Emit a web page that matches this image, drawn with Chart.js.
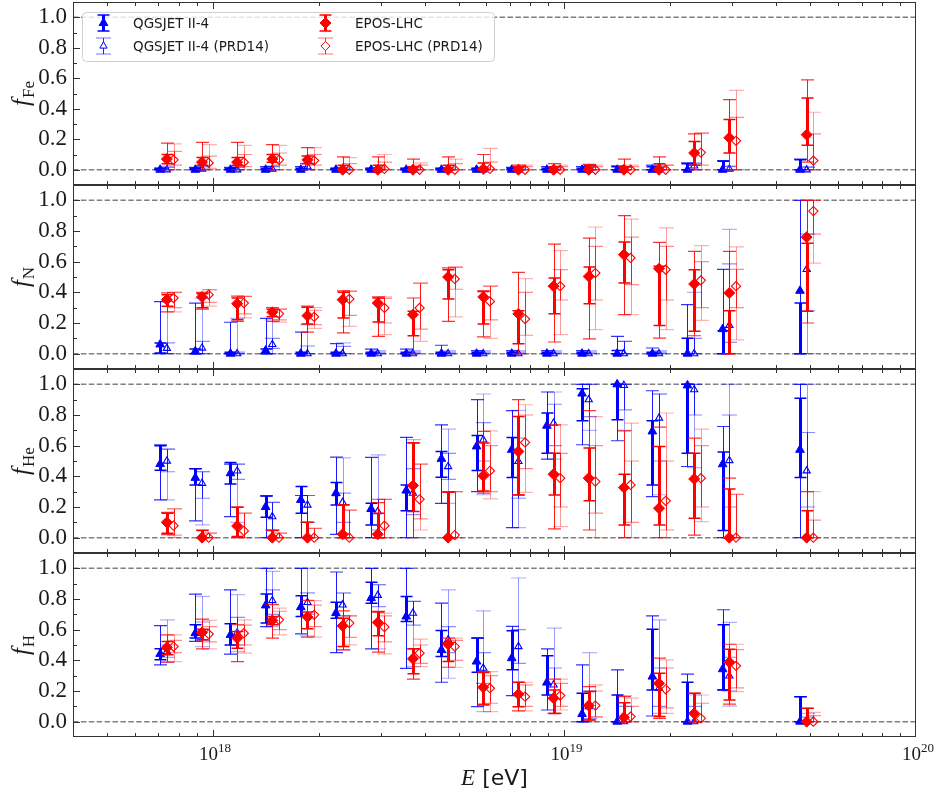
<!DOCTYPE html>
<html>
<head>
<meta charset="utf-8">
<title>Mass fractions vs energy</title>
<script src="https://cdn.jsdelivr.net/npm/chart.js@4.4.1/dist/chart.umd.min.js"></script>
<style>
  body { margin: 0; background: #fff; }
  #figure { position: relative; width: 936px; height: 796px; }
  #figure canvas { position: absolute; left: 0; }
</style>
</head>
<body>
<div id="figure">
  <canvas id="panelFe" width="936" height="185" style="top:0px"></canvas>
  <canvas id="panelN" width="936" height="184" style="top:185px"></canvas>
  <canvas id="panelHe" width="936" height="184" style="top:369px"></canvas>
  <canvas id="panelH" width="936" height="243" style="top:553px"></canvas>
</div>
<script>
// Energy bins (log10 E/eV)
const lgE = [17.85, 17.95, 18.05, 18.15, 18.25, 18.35, 18.45, 18.55, 18.65, 18.75, 18.85, 18.95, 19.05, 19.15, 19.25, 19.35, 19.45, 19.67];

// Axis ticks
const yTicks = [0, 0.2, 0.4, 0.6, 0.8, 1.0];
const yMinorTicks = [0.1, 0.3, 0.5, 0.7, 0.9];
const xTickExps = [18, 19, 20];
const seriesLabels = ['QGSJET II-4', 'QGSJET II-4 (PRD14)', 'EPOS-LHC', 'EPOS-LHC (PRD14)'];

// ---- Iron ----
const feQ = [0, 0, 0, 0, 0, 0, 0, 0, 0, 0, 0, 0, 0, 0, 0, 0, 0, 0];
const feQStat = [[0,0.01],[0,0.01],[0,0.01],[0,0.01],[0,0.01],[0,0.01],[0,0.01],[0,0.01],[0,0.01],[0,0.01],[0,0.01],[0,0.01],[0,0.01],[0,0.02],[0,0.02],[0,0.04],[0,0.055],[0,0.065]];
const feQSys = [[0,0.01],[0,0.015],[0,0.015],[0,0.02],[0,0.02],[0,0.01],[0,0.01],[0,0.01],[0,0.01],[0,0.01],[0,0.015],[0,0.02],[0,0.02],[0,0.025],[0,0.03],[0,0.045],[0,0.06],[0,0.07]];
const feQp = [0, 0.005, 0, 0.005, 0.02, 0, 0, 0, 0, 0, 0, 0, 0, 0, 0, 0.025, 0.005, 0];
const feQpStat = [[0,0.015],[0,0.02],[0,0.015],[0,0.02],[0,0.04],[0,0.01],[0,0.01],[0,0.01],[0,0.01],[0,0.01],[0,0.01],[0,0.01],[0,0.015],[0,0.015],[0,0.015],[0,0.04],[0,0.02],[0,0.015]];
const feQpSys = [[0,0.02],[0,0.025],[0,0.02],[0,0.025],[0,0.045],[0,0.015],[0,0.015],[0,0.015],[0,0.015],[0,0.015],[0,0.015],[0,0.015],[0,0.02],[0,0.02],[0,0.02],[0,0.045],[0,0.025],[0,0.02]];
const feE = [0.07, 0.05, 0.05, 0.07, 0.065, 0, 0, 0, 0, 0.005, 0, 0, 0, 0, 0, 0.11, 0.21, 0.23];
const feEStat = [[0.04,0.1],[0.03,0.08],[0.03,0.08],[0.05,0.1],[0.04,0.09],[0,0.03],[0,0.03],[0,0.02],[0,0.03],[0,0.045],[0,0.02],[0,0.02],[0,0.03],[0,0.02],[0,0.04],[0.03,0.185],[0.11,0.33],[0.16,0.47]];
const feESys = [[0,0.175],[0,0.18],[0,0.18],[0,0.165],[0,0.145],[0,0.085],[0,0.085],[0,0.07],[0,0.085],[0,0.1],[0,0.03],[0,0.04],[0,0.035],[0,0.07],[0,0.085],[0,0.235],[0,0.46],[0.05,0.59]];
const feEp = [0.065, 0.045, 0.05, 0.065, 0.06, 0, 0.005, 0, 0, 0.005, 0, 0, 0, 0, 0, 0.113, 0.19, 0.06];
const feEpStat = [[0.03,0.12],[0.01,0.09],[0.02,0.1],[0.03,0.11],[0.03,0.1],[0,0.04],[0,0.05],[0,0.03],[0,0.04],[0,0.05],[0,0.02],[0,0.02],[0,0.02],[0,0.02],[0,0.03],[0.03,0.24],[0,0.344],[0,0.235]];
const feEpSys = [[0,0.17],[0,0.165],[0,0.16],[0,0.16],[0,0.145],[0,0.08],[0,0.1],[0,0.045],[0,0.07],[0,0.14],[0,0.03],[0,0.03],[0,0.03],[0,0.03],[0,0.03],[0,0.24],[0,0.52],[0,0.377]];

// ---- Nitrogen ----
const nQ = [0.06, 0.015, 0, 0.02, 0, 0, 0, 0, 0, 0, 0, 0, 0, 0, 0, 0, 0.16, 0.41];
const nQStat = [[0.005,0.07],[0,0.03],[0,0.01],[0,0.03],[0,0.01],[0,0.01],[0,0.01],[0,0.01],[0,0.01],[0,0.01],[0,0.01],[0,0.01],[0,0.01],[0,0.02],[0,0.01],[0,0.1],[0,0.15],[0,0.33]];
const nQSys = [[0,0.34],[0,0.33],[0,0.205],[0,0.23],[0,0.14],[0,0.065],[0,0.03],[0,0.03],[0,0.055],[0,0.02],[0,0.02],[0,0.02],[0,0.02],[0,0.113],[0,0.037],[0,0.32],[0,0.55],[0,1.0]];
const nQp = [0.035, 0.037, 0, 0.06, 0, 0, 0, 0, 0, 0, 0, 0, 0, 0, 0, 0, 0.185, 0.55];
const nQpStat = [[0,0.07],[0,0.08],[0,0.01],[0.035,0.1],[0,0.05],[0,0.048],[0,0.01],[0,0.01],[0,0.01],[0,0.01],[0,0.01],[0,0.01],[0,0.01],[0,0.08],[0,0.01],[0,0.1],[0.074,0.585],[0.28,0.78]];
const nQpSys = [[0,0.34],[0,0.36],[0,0.23],[0,0.22],[0,0.19],[0,0.07],[0,0.02],[0,0.02],[0,0.02],[0,0.02],[0,0.02],[0,0.02],[0,0.02],[0,0.08],[0,0.02],[0,0.4],[0,0.81],[0,1.0]];
const nE = [0.352, 0.37, 0.326, 0.27, 0.248, 0.352, 0.33, 0.254, 0.5, 0.37, 0.26, 0.44, 0.504, 0.646, 0.554, 0.454, 0.396, 0.76];
const nEStat = [[0.31,0.385],[0.3,0.39],[0.222,0.363],[0.24,0.29],[0.193,0.302],[0.232,0.4],[0.206,0.363],[0.117,0.276],[0.357,0.548],[0.193,0.406],[0.065,0.28],[0.26,0.493],[0.326,0.565],[0.461,0.728],[0.183,0.57],[0.146,0.548],[0,0.28],[0.276,0.72]];
const nESys = [[0.272,0.396],[0.29,0.4],[0.21,0.375],[0.21,0.3],[0.14,0.31],[0.135,0.41],[0.113,0.37],[0,0.363],[0.21,0.56],[0.109,0.41],[0,0.53],[0.076,0.715],[0.096,0.754],[0.254,0.9],[0.102,0.726],[0.117,0.667],[0,0.667],[0.2,1.0]];
const nEp = [0.363, 0.385, 0.33, 0.26, 0.24, 0.357, 0.298, 0.298, 0.487, 0.341, 0.226, 0.44, 0.526, 0.624, 0.548, 0.478, 0.44, 0.93];
const nEpStat = [[0.3,0.4],[0.335,0.417],[0.26,0.374],[0.22,0.29],[0.19,0.283],[0.25,0.406],[0.2,0.36],[0.16,0.46],[0.42,0.565],[0.22,0.44],[0.12,0.4],[0.35,0.548],[0.35,0.7],[0.45,0.76],[0.35,0.7],[0.3,0.6],[0.3,0.55],[0.78,1.0]];
const nEpSys = [[0.272,0.4],[0.31,0.417],[0.233,0.374],[0.206,0.29],[0.165,0.3],[0.178,0.41],[0.124,0.37],[0.08,0.46],[0.24,0.565],[0.1,0.44],[0,0.49],[0.124,0.672],[0.157,0.826],[0.254,0.878],[0.157,0.82],[0.217,0.704],[0.09,0.696],[0.59,1.0]];

// ---- Helium ----
const heQ = [0.48, 0.39, 0.42, 0.2, 0.246, 0.29, 0.187, 0.307, 0.514, 0.595, 0.573, 0.73, 0.94, 1.0, 0.693, 0.993, 0.479, 0.573];
const heQStat = [[0.44,0.6],[0.344,0.45],[0.35,0.49],[0.133,0.272],[0.16,0.333],[0.213,0.36],[0.083,0.224],[0.176,0.344],[0.394,0.562],[0.438,0.667],[0.392,0.654],[0.551,0.813],[0.762,0.972],[0.769,1.0],[0.344,0.762],[0.551,1.0],[0.046,0.558],[0.392,0.91]];
const heQSys = [[0.246,0.605],[0.11,0.45],[0.137,0.48],[0,0.272],[0,0.275],[0.022,0.525],[0,0.523],[0,0.654],[0.224,0.736],[0.3,0.9],[0.065,0.828],[0.512,0.95],[0.606,1.0],[0.632,1.0],[0.268,0.958],[0.464,1.0],[0,0.725],[0,1.0]];
const heQp = [0.5, 0.355, 0.435, 0.137, 0.213, 0.23, 0.17, 0.29, 0.464, 0.638, 0.497, 0.747, 0.9, 0.993, 0.78, 0.965, 0.503, 0.436];
const heQpStat = [[0.43,0.577],[0.257,0.43],[0.38,0.48],[0.05,0.23],[0.1,0.275],[0.1,0.29],[0.05,0.25],[0.15,0.45],[0.38,0.55],[0.5,0.75],[0.257,0.65],[0.6,0.87],[0.79,1.0],[0.834,1.0],[0.5,0.937],[0.8,1.0],[0.2,0.8],[0.2,0.686]];
const heQpSys = [[0.246,0.577],[0.083,0.43],[0.1,0.48],[0,0.23],[0,0.275],[0,0.52],[0,0.54],[0,0.64],[0.224,0.708],[0.28,0.937],[0.065,0.83],[0.512,0.95],[0.7,1.0],[0.7,1.0],[0.28,0.937],[0.457,1.0],[0,1.0],[0,1.0]];
const heE = [0.1, 0, 0.076, 0, 0, 0.022, 0.022, 0.34, 0, 0.403, 0.562, 0.414, 0.388, 0.327, 0.192, 0.383, 0, 0];
const heEStat = [[0.028,0.16],[0,0.046],[0.007,0.198],[0,0.046],[0,0.1],[0,0.213],[0,0.16],[0.17,0.617],[0,0.296],[0.305,0.617],[0.279,0.79],[0.279,0.551],[0.24,0.584],[0.083,0.414],[0.083,0.595],[0.126,0.551],[0,0.318],[0,0.176]];
const heESys = [[0.02,0.165],[0,0.05],[0,0.2],[0,0.05],[0,0.1],[0,0.215],[0,0.229],[0,0.62],[0,0.3],[0.29,0.693],[0.279,0.9],[0.057,0.736],[0.05,0.828],[0,0.697],[0,0.721],[0.017,0.649],[0,0.388],[0,0.3]];
const heEp = [0.078, 0, 0.044, 0, 0, 0, 0.078, 0.25, 0.017, 0.436, 0.621, 0.388, 0.366, 0.344, 0.24, 0.388, 0, 0];
const heEpStat = [[0.017,0.187],[0,0.03],[0,0.16],[0,0.03],[0,0.06],[0,0.18],[0,0.25],[0.122,0.48],[0,0.3],[0.3,0.6],[0.45,0.8],[0.2,0.55],[0.16,0.6],[0.1,0.5],[0.05,0.5],[0.2,0.6],[0,0.283],[0,0.115]];
const heEpSys = [[0,0.19],[0,0.03],[0,0.16],[0,0.03],[0,0.06],[0,0.18],[0,0.25],[0.05,0.48],[0,0.3],[0.253,0.697],[0.296,0.867],[0.072,0.736],[0,0.79],[0,0.747],[0,0.813],[0.105,0.708],[0,0.283],[0,0.3]];

// ---- Hydrogen ----
const hQ = [0.442, 0.577, 0.566, 0.758, 0.747, 0.708, 0.806, 0.686, 0.468, 0.392, 0.414, 0.255, 0.05, 0, 0.294, 0, 0.342, 0];
const hQStat = [[0.403,0.475],[0.545,0.632],[0.5,0.638],[0.643,0.832],[0.686,0.821],[0.675,0.778],[0.773,0.91],[0.654,0.817],[0.425,0.595],[0.322,0.545],[0.338,0.593],[0.174,0.43],[0,0.185],[0,0.174],[0.207,0.603],[0,0.257],[0.207,0.632],[0,0.163]];
const hQSys = [[0.37,0.627],[0.523,0.832],[0.44,0.86],[0.62,1.0],[0.573,1.0],[0.45,0.976],[0.475,1.0],[0.348,1.0],[0.257,0.773],[0.098,0.545],[0.17,0.621],[0.076,0.475],[0,0.37],[0,0.338],[0.037,0.69],[0,0.31],[0.207,0.73],[0,0.163]];
const hQp = [0.457, 0.588, 0.58, 0.79, 0.778, 0.762, 0.824, 0.708, 0.534, 0.349, 0.49, 0.24, 0.098, 0, 0.218, 0, 0.298, 0];
const hQpStat = [[0.42,0.5],[0.53,0.65],[0.5,0.68],[0.7,0.86],[0.7,0.84],[0.69,0.839],[0.75,0.893],[0.63,0.784],[0.45,0.62],[0.25,0.45],[0.38,0.6],[0.15,0.35],[0.02,0.2],[0,0.1],[0.1,0.35],[0,0.1],[0.2,0.42],[0,0.03]];
const hQpSys = [[0.388,0.664],[0.49,0.817],[0.457,0.828],[0.62,0.98],[0.56,1.0],[0.468,0.839],[0.475,0.893],[0.359,0.784],[0.283,0.86],[0.065,0.723],[0.17,0.937],[0.054,0.61],[0,0.45],[0,0.17],[0.054,0.664],[0,0.174],[0.102,0.647],[0,0.054]];
const hE = [0.484, 0.582, 0.545, 0.66, 0.682, 0.625, 0.647, 0.41, 0.505, 0.224, 0.179, 0.153, 0.105, 0.028, 0.25, 0.054, 0.388, 0];
const hEStat = [[0.436,0.523],[0.534,0.603],[0.479,0.588],[0.632,0.686],[0.606,0.715],[0.49,0.675],[0.56,0.715],[0.312,0.475],[0.392,0.516],[0.109,0.32],[0.098,0.257],[0.054,0.207],[0.011,0.196],[0,0.124],[0.033,0.316],[0,0.185],[0.142,0.473],[0,0.087]];
const hESys = [[0.388,0.566],[0.475,0.669],[0.392,0.632],[0.545,0.763],[0.551,0.791],[0.468,0.723],[0.453,0.719],[0.277,0.475],[0.355,0.545],[0.115,0.327],[0.07,0.257],[0.054,0.277],[0.011,0.229],[0,0.163],[0.022,0.414],[0,0.185],[0.115,0.505],[0,0.087]];
const hEp = [0.49, 0.571, 0.577, 0.664, 0.697, 0.643, 0.617, 0.447, 0.49, 0.218, 0.163, 0.17, 0.105, 0.033, 0.211, 0.022, 0.364, 0];
const hEpStat = [[0.45,0.53],[0.52,0.62],[0.5,0.63],[0.6,0.72],[0.62,0.76],[0.55,0.69],[0.52,0.69],[0.38,0.5],[0.4,0.53],[0.12,0.3],[0.1,0.24],[0.1,0.25],[0.03,0.2],[0,0.1],[0.09,0.35],[0,0.12],[0.22,0.47],[0,0.04]];
const hEpSys = [[0.392,0.566],[0.475,0.66],[0.447,0.664],[0.566,0.741],[0.551,0.79],[0.501,0.69],[0.442,0.708],[0.359,0.538],[0.355,0.545],[0.065,0.327],[0.07,0.257],[0.076,0.277],[0.033,0.24],[0,0.153],[0.054,0.403],[0,0.174],[0.196,0.505],[0,0.061]];

// Styling
const BLUE = '#0000ff';
const RED = '#ff0000';
const FRAME = '#333333';
const SERIF = "'Liberation Serif', 'DejaVu Serif', serif";
const SANS = "'DejaVu Sans', sans-serif";

// marker look per series; shift is a small log10 offset so the points don't overlap
const looks = [
  { color: BLUE, style: 'triangle', radius: 5,   filled: true,  shift: 0,     order: 4 },
  { color: BLUE, style: 'triangle', radius: 4.2, filled: false, shift: 0.019, order: 3 },
  { color: RED,  style: 'rectRot',  radius: 5.5, filled: true,  shift: 0.019, order: 2 },
  { color: RED,  style: 'rectRot',  radius: 4.6, filled: false, shift: 0.038, order: 1 }
];

// error bar looks: line width, cap half-width, cap line width, line alpha, cap alpha
const BAR_FILLED = {
  stat: { lw: 3, cap: 6, capLw: 1.5, alpha: 1, capAlpha: 1 },
  sys: { lw: 1, cap: 6.5, capLw: 1.2, alpha: 0.9, capAlpha: 0.8 }
};
const BAR_OPEN = {
  stat: { lw: 1, cap: 7.5, capLw: 1.2, alpha: 0.85, capAlpha: 0.45 },
  sys: { lw: 1, cap: 7.5, capLw: 1.2, alpha: 0.4, capAlpha: 0.3 }
};

function rgba(hex, a) {
  const n = parseInt(hex.slice(1), 16);
  return `rgba(${n >> 16}, ${(n >> 8) & 255}, ${n & 255}, ${a})`;
}

function drawErrorBar(ctx, px, ys, range, st, color) {
  const y1 = ys.getPixelForValue(range[0]);
  const y2 = ys.getPixelForValue(range[1]);
  ctx.strokeStyle = rgba(color, st.alpha);
  ctx.lineWidth = st.lw;
  ctx.beginPath();
  ctx.moveTo(px, y1);
  ctx.lineTo(px, y2);
  ctx.stroke();
  ctx.strokeStyle = rgba(color, st.capAlpha);
  ctx.lineWidth = st.capLw;
  ctx.beginPath();
  ctx.moveTo(px - st.cap, y1); ctx.lineTo(px + st.cap, y1);
  ctx.moveTo(px - st.cap, y2); ctx.lineTo(px + st.cap, y2);
  ctx.stroke();
}

function markerPath(ctx, style, x, y, r) {
  ctx.beginPath();
  if (style === 'triangle') {
    const a = 2 * Math.PI / 3;
    ctx.moveTo(x, y - r);
    ctx.lineTo(x + r * Math.sin(a), y - r * Math.cos(a));
    ctx.lineTo(x - r * Math.sin(a), y - r * Math.cos(a));
  } else {
    ctx.moveTo(x - r, y);
    ctx.lineTo(x, y - r);
    ctx.lineTo(x + r, y);
    ctx.lineTo(x, y + r);
  }
  ctx.closePath();
}

// Error bars are drawn just before each dataset's markers
const errorBars = {
  id: 'errorBars',
  beforeDatasetDraw(chart, args) {
    const ds = chart.data.datasets[args.index];
    const { ctx, scales: { x, y } } = chart;
    const bars = ds.look.filled ? BAR_FILLED : BAR_OPEN;
    ctx.save();
    ds.data.forEach((pt, i) => {
      const px = Math.round(x.getPixelForValue(pt.x)) + 0.5;
      drawErrorBar(ctx, px, y, ds.sysErr[i], bars.sys, ds.look.color);
      drawErrorBar(ctx, px, y, ds.statErr[i], bars.stat, ds.look.color);
    });
    ctx.restore();
  }
};

// dashed guides at 0 and 1
const refLines = {
  id: 'refLines',
  beforeDatasetsDraw(chart) {
    const { ctx, chartArea: a, scales: { y } } = chart;
    ctx.save();
    ctx.strokeStyle = '#808080';
    ctx.lineWidth = 1.5;
    ctx.setLineDash([5.5, 2.4]);
    [0, 1].forEach(v => {
      const py = y.getPixelForValue(v);
      ctx.beginPath();
      ctx.moveTo(a.left, py);
      ctx.lineTo(a.right, py);
      ctx.stroke();
    });
    ctx.restore();
  }
};

function drawLegend(ctx) {
  ctx.save();
  ctx.beginPath();
  ctx.roundRect(82.5, 12.5, 412, 49, 4);
  ctx.fillStyle = 'rgba(255,255,255,0.8)';
  ctx.fill();
  ctx.strokeStyle = '#d0d0d0';
  ctx.lineWidth = 1;
  ctx.stroke();

  const spots = [[103.5, 23], [103.5, 46], [325.5, 23], [325.5, 46]];
  spots.forEach(([cx, cy], i) => {
    const look = looks[i];
    const st = look.filled ? BAR_FILLED.stat : BAR_OPEN.stat;
    ctx.strokeStyle = rgba(look.color, st.alpha);
    ctx.lineWidth = st.lw;
    ctx.beginPath();
    ctx.moveTo(cx, cy - 8); ctx.lineTo(cx, cy + 8);
    ctx.stroke();
    ctx.strokeStyle = rgba(look.color, look.filled ? 1 : 0.55);
    ctx.lineWidth = st.capLw;
    ctx.beginPath();
    ctx.moveTo(cx - st.cap, cy - 8); ctx.lineTo(cx + st.cap, cy - 8);
    ctx.moveTo(cx - st.cap, cy + 8); ctx.lineTo(cx + st.cap, cy + 8);
    ctx.stroke();

    markerPath(ctx, look.style, cx, cy, look.radius);
    ctx.lineWidth = 1;
    ctx.strokeStyle = look.color;
    ctx.fillStyle = look.filled ? look.color : '#ffffff';
    ctx.fill();
    ctx.stroke();

    ctx.fillStyle = '#1a1a1a';
    ctx.font = `13.5px ${SANS}`;
    ctx.textBaseline = 'middle';
    ctx.textAlign = 'left';
    ctx.fillText(seriesLabels[i], cx + 29.5, cy + 1);
  });
  ctx.restore();
}

function drawYLabel(ctx, a, elem) {
  ctx.save();
  ctx.translate(29, (a.top + a.bottom) / 2);
  ctx.rotate(-Math.PI / 2);
  ctx.fillStyle = '#1a1a1a';
  ctx.textBaseline = 'alphabetic';
  ctx.textAlign = 'left';
  const fFont = `italic 25px ${SERIF}`;
  const sFont = `17px ${SERIF}`;
  ctx.font = fFont;
  const wf = ctx.measureText('f').width;
  ctx.font = sFont;
  const ws = ctx.measureText(elem).width;
  const x0 = -(wf + 1 + ws) / 2;
  ctx.font = fFont;
  ctx.fillText('f', x0, 0);
  ctx.font = sFont;
  ctx.fillText(elem, x0 + wf + 1, 5);
  ctx.restore();
}

function drawXLabels(ctx, chart) {
  const { chartArea: a, scales: { x } } = chart;
  ctx.save();
  ctx.fillStyle = '#1a1a1a';
  ctx.textBaseline = 'alphabetic';
  ctx.textAlign = 'left';
  const base = `19px ${SERIF}`;
  const sup = `13px ${SERIF}`;
  xTickExps.forEach(e => {
    const px = x.getPixelForValue(Math.pow(10, e));
    ctx.font = base;
    const wb = ctx.measureText('10').width;
    ctx.font = sup;
    const we = ctx.measureText(String(e)).width;
    const x0 = px - (wb + we) / 2 + 2;
    ctx.font = base;
    ctx.fillText('10', x0, a.bottom + 23);
    ctx.font = sup;
    ctx.fillText(String(e), x0 + wb, a.bottom + 14.5);
  });
  // axis title
  const eFont = `italic 23px ${SERIF}`;
  const uFont = `22px ${SANS}`;
  ctx.font = eFont;
  const we = ctx.measureText('E').width;
  ctx.font = uFont;
  const wu = ctx.measureText(' [eV]').width;
  const x0 = (a.left + a.right) / 2 - (we + wu) / 2;
  ctx.font = eFont;
  ctx.fillText('E', x0, a.bottom + 48);
  ctx.font = uFont;
  ctx.fillText(' [eV]', x0 + we, a.bottom + 48);
  ctx.restore();
}

// frame, inward ticks, axis labels and legend
const panelDeco = {
  id: 'panelDeco',
  afterDraw(chart, args, opts) {
    const { ctx, chartArea: a, scales: { x, y } } = chart;
    ctx.save();
    ctx.strokeStyle = FRAME;
    ctx.lineWidth = 1;
    ctx.beginPath();
    yTicks.forEach(v => {
      const py = Math.round(y.getPixelForValue(v)) + 0.5;
      ctx.moveTo(a.left, py); ctx.lineTo(a.left + 7, py);
    });
    yMinorTicks.forEach(v => {
      const py = Math.round(y.getPixelForValue(v)) + 0.5;
      ctx.moveTo(a.left, py); ctx.lineTo(a.left + 4, py);
    });
    for (let d = 17; d <= 19; d++) {
      for (let k = 1; k <= 9; k++) {
        const v = k * Math.pow(10, d);
        if (v <= x.min || v > x.max) continue;
        const px = Math.round(x.getPixelForValue(v)) + 0.5;
        const len = k === 1 ? 7 : 4;
        ctx.moveTo(px, a.bottom); ctx.lineTo(px, a.bottom - len);
        ctx.moveTo(px, a.top); ctx.lineTo(px, a.top + len);
      }
    }
    ctx.stroke();
    ctx.strokeRect(a.left + 0.5, a.top + 0.5, a.width - 1, a.height - 1);
    ctx.restore();

    drawYLabel(ctx, a, opts.elem);
    if (opts.legend) drawLegend(ctx);
    if (opts.xLabels) drawXLabels(ctx, chart);
  }
};

function buildDataset(i, vals, stat, sys) {
  const look = looks[i];
  return {
    label: seriesLabels[i],
    data: vals.map((v, j) => ({ x: Math.pow(10, lgE[j] + look.shift), y: v })),
    statErr: stat,
    sysErr: sys,
    look: look,
    order: look.order,
    pointStyle: look.style,
    pointRadius: look.radius,
    pointBackgroundColor: look.filled ? look.color : 'rgba(0,0,0,0)',
    pointBorderColor: look.color,
    pointBorderWidth: look.filled ? 1 : 1.1,
    showLine: false
  };
}

const panels = [
  { canvas: 'panelFe', elem: 'Fe', padTop: 2, padBottom: 0, legend: true,
    sets: [[feQ, feQStat, feQSys], [feQp, feQpStat, feQpSys], [feE, feEStat, feESys], [feEp, feEpStat, feEpSys]] },
  { canvas: 'panelN', elem: 'N', padTop: 0, padBottom: 0,
    sets: [[nQ, nQStat, nQSys], [nQp, nQpStat, nQpSys], [nE, nEStat, nESys], [nEp, nEpStat, nEpSys]] },
  { canvas: 'panelHe', elem: 'He', padTop: 0, padBottom: 0,
    sets: [[heQ, heQStat, heQSys], [heQp, heQpStat, heQpSys], [heE, heEStat, heESys], [heEp, heEpStat, heEpSys]] },
  { canvas: 'panelH', elem: 'H', padTop: 0, padBottom: 59, xLabels: true,
    sets: [[hQ, hQStat, hQSys], [hQp, hQpStat, hQpSys], [hE, hEStat, hESys], [hEp, hEpStat, hEpSys]] }
];

panels.forEach(p => {
  const ctx = document.getElementById(p.canvas).getContext('2d');
  new Chart(ctx, {
    type: 'scatter',
    data: {
      datasets: p.sets.map((s, i) => buildDataset(i, s[0], s[1], s[2]))
    },
    options: {
      responsive: false,
      animation: false,
      events: [],
      layout: {
        autoPadding: false,
        padding: { top: p.padTop, bottom: p.padBottom, left: 0, right: 20 }
      },
      scales: {
        x: {
          type: 'logarithmic',
          min: 4e17,
          max: 1e20,
          display: false
        },
        y: {
          min: -0.1,
          max: 1.1,
          afterFit: axis => {
            axis.width = 73;
            // tick labels sit well inside the range, so no extra room above/below
            axis.paddingTop = 0;
            axis.paddingBottom = 0;
          },
          afterBuildTicks: axis => { axis.ticks = yTicks.map(v => ({ value: v })); },
          grid: { display: false, drawTicks: false },
          border: { display: false },
          ticks: {
            font: { family: SERIF, size: 23 },
            color: '#1a1a1a',
            padding: 6,
            callback: v => v.toFixed(1)
          }
        }
      },
      plugins: {
        legend: { display: false },
        tooltip: { enabled: false },
        panelDeco: { elem: p.elem, legend: !!p.legend, xLabels: !!p.xLabels }
      }
    },
    plugins: [refLines, errorBars, panelDeco]
  });
});
</script>
</body>
</html>
